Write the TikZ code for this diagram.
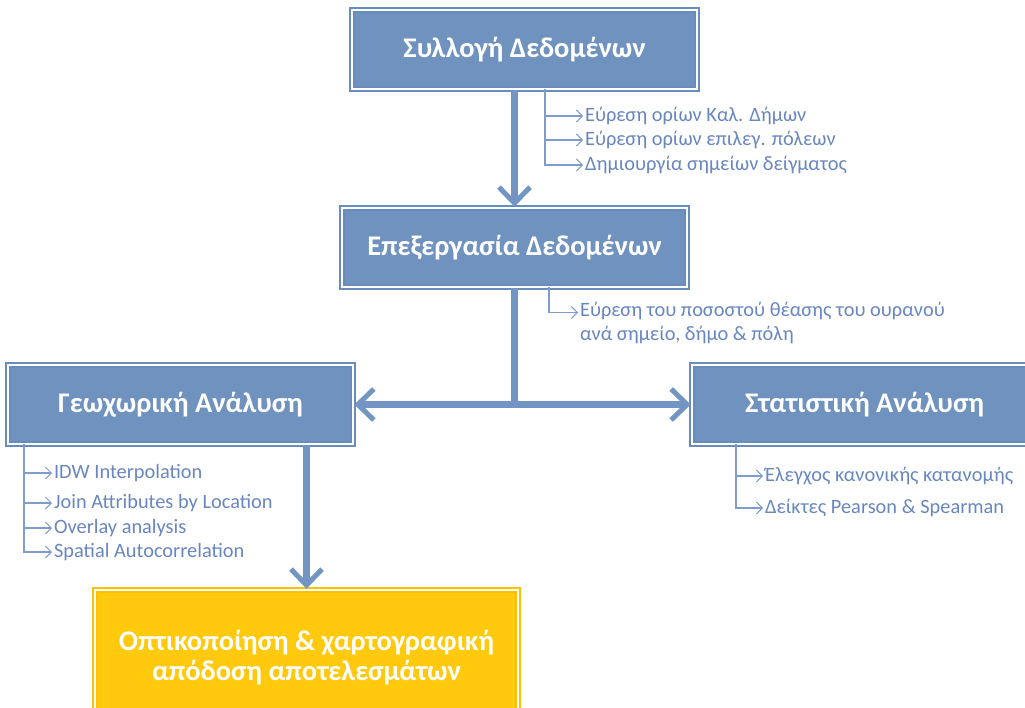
\documentclass[tikz,border=0pt]{standalone}
\usepackage{fontspec}
\setmainfont{Carlito}
\usetikzlibrary{arrows.meta, positioning}
\definecolor{BoxBlue}{RGB}{111,146,190}
\definecolor{BoxEdge}{RGB}{104,140,188}
\definecolor{FlowBlue}{RGB}{114,149,195}
\definecolor{OutYellow}{RGB}{255,201,14}
\definecolor{OutEdge}{RGB}{255,192,0}
\definecolor{SubText}{RGB}{104,134,192}
\definecolor{SubLine}{RGB}{128,156,204}

\begin{document}
\begin{tikzpicture}[font=\fontsize{11.6}{13.6}\selectfont,
    box/.style={draw=BoxEdge, double=white, double distance=0.6pt, line width=1.4pt, fill=BoxBlue,
        minimum width=6.9cm, minimum height=1.58cm, text=white, font=\fontsize{16.2}{17}\selectfont\bfseries},
    outbox/.style={box, fill=OutYellow, draw=OutEdge, minimum width=8.46cm, minimum height=2.7cm, align=center},
    flow/.style={draw=FlowBlue, line width=0.14cm},
    >={Straight Barb[length=0.32cm, width=0.62cm, line width=0.1cm]},
    sub/.style={draw=SubLine, line width=0.7pt, -{Straight Barb[length=0.12cm, width=0.24cm, line width=0.6pt]}},
    item/.style={anchor=west, inner sep=1pt, text=SubText}]
    \useasboundingbox (0,0) rectangle (20.5,14.14);

    % --- Main steps ---
    \node[box] (collect) at (10.49,13.15) {Συλλογή Δεδομένων};
    \node[box] (process) at (10.29,9.19) {Επεξεργασία Δεδομένων};
    \node[box] (geo) at (3.61,6.05) {Γεωχωρική Ανάλυση};
    \node[box] (stat) at (17.29,6.05) {Στατιστική Ανάλυση};
    \node[outbox] (output) at (6.13,0.99) {Οπτικοποίηση \& χαρτογραφική\\απόδοση αποτελεσμάτων};

    % --- Flow arrows ---
    \draw[flow, ->] (collect.south -| process.north) -- (process.north);
    \coordinate (fork) at (process.south |- geo.east);
    \draw[flow] (process.south) -- (fork);
    \draw[flow, <->] (geo.east) -- (stat.west);
    \draw[flow, ->] (geo.south -| output.north) -- (output.north);

    % --- Sub-steps: collection ---
    \coordinate (ctrunk) at (10.9,12.36);
    \node[item] (c1) at (11.66,11.82) {Εύρεση ορίων Καλ. Δήμων};
    \node[item] (c2) at (11.66,11.34) {Εύρεση ορίων επιλεγ. πόλεων};
    \node[item] (c3) at (11.66,10.84) {Δημιουργία σημείων δείγματος};
    \foreach \i in {1,2,3}
        \draw[sub] (ctrunk) |- (c\i.west);

    % --- Sub-steps: processing ---
    \coordinate (ptrunk) at (10.98,8.4);
    \node[item, anchor=north west, align=left] (p1) at (11.56,8.14)
        {Εύρεση του ποσοστού θέασης του ουρανού\\ανά σημείο, δήμο \& πόλη};
    \draw[sub] (ptrunk) |- ([yshift=-0.25cm]p1.north west);

    % --- Sub-steps: spatial analysis ---
    \coordinate (gtrunk) at (0.48,5.26);
    \node[item] (g1) at (1.04,4.68) {IDW Interpolation};
    \node[item] (g2) at (1.04,4.08) {Join Attributes by Location};
    \node[item] (g3) at (1.04,3.58) {Overlay analysis};
    \node[item] (g4) at (1.04,3.10) {Spatial Autocorrelation};
    \foreach \i in {1,...,4}
        \draw[sub] (gtrunk) |- (g\i.west);

    % --- Sub-steps: statistics ---
    \coordinate (strunk) at (14.72,5.26);
    \node[item] (s1) at (15.26,4.62) {Έλεγχος κανονικής κατανομής};
    \node[item] (s2) at (15.26,3.98) {Δείκτες Pearson \& Spearman};
    \foreach \i in {1,2}
        \draw[sub] (strunk) |- (s\i.west);
\end{tikzpicture}
\end{document}
